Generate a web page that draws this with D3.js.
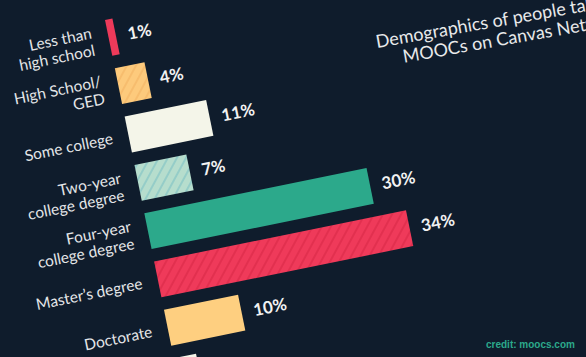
<!DOCTYPE html>
<html>
<head>
<meta charset="utf-8">
<script src="https://cdn.jsdelivr.net/npm/d3@7"></script>
<style>
  html, body { margin: 0; padding: 0; background: #0f1c2c; }
  svg { display: block; }
</style>
</head>
<body>
<svg id="chart" width="586" height="357"></svg>
<script>
// ---- data ----
const categories = ["Less than\nhigh school", "High School/\nGED", "Some college", "Two-year\ncollege degree", "Four-year\ncollege degree", "Master’s degree", "Doctorate", "Professional degree"];
const values = [1, 4, 11, 7, 30, 34, 10, 3];
const valueLabels = ["1%", "4%", "11%", "7%", "30%", "34%", "10%", ""];
const titleLines = ["Demographics of people taking", "MOOCs on Canvas Network"];
const credit = "credit: moocs.com";
const visibleLabels = 7; // last bar runs off the bottom edge, its labels are not visible

// ---- styles ----
const fills = ["#ee3a5a", "url(#hatchOrange)", "#f4f5e9", "url(#hatchTeal)", "#2ca98b", "url(#hatchRed)", "#fecf80", "#f4f5e9"];

const svg = d3.select("#chart");
svg.append("rect").attr("width", 586).attr("height", 357).attr("fill", "#0f1c2c");

const defs = svg.append("defs");
function hatch(id, base, line) {
  const p = defs.append("pattern").attr("id", id).attr("patternUnits", "userSpaceOnUse")
    .attr("width", 8).attr("height", 8).attr("patternTransform", "rotate(40)");
  p.append("rect").attr("width", 8).attr("height", 8).attr("fill", base);
  p.append("rect").attr("x", 0).attr("width", 2).attr("height", 8).attr("fill", line);
}
hatch("hatchOrange", "#fdca7c", "#f7bd6e");
hatch("hatchTeal", "#b6ddcd", "#95cdc8");
hatch("hatchRed", "#ef3a5a", "#e2304f");

const step = 49.3, bw = 36.5;
const x = d3.scaleLinear().domain([0, 34]).range([0, 257]);
const y = d3.scaleBand().domain(categories)
  .range([0, categories.length * step - (step - bw)])
  .paddingInner((step - bw) / step).paddingOuter(0);

const g = svg.append("g").attr("transform", "translate(105,20) rotate(-11.5)");

g.selectAll("rect.bar").data(values).join("rect")
  .attr("class", "bar")
  .attr("x", x(0))
  .attr("y", (d, i) => y(categories[i]))
  .attr("width", d => x(d) - x(0))
  .attr("height", y.bandwidth())
  .attr("fill", (d, i) => fills[i]);

g.selectAll("text.val").data(values.slice(0, visibleLabels)).join("text")
  .attr("class", "val")
  .attr("x", d => x(d) + 12)
  .attr("y", (d, i) => y(categories[i]) + y.bandwidth() / 2 + 6)
  .attr("fill", "#f2f2f2")
  .attr("font-family", "Lato, sans-serif")
  .attr("font-weight", 700)
  .attr("font-size", 17)
  .text((d, i) => valueLabels[i]);

const labels = g.selectAll("text.cat").data(categories.slice(0, visibleLabels)).join("text")
  .attr("class", "cat")
  .attr("text-anchor", "end")
  .attr("fill", "#e4e6e8")
  .attr("font-family", "Lato, sans-serif")
  .attr("font-size", 15.5);
labels.each(function (d) {
  const lines = d.split("\n");
  const c = y(d) + y.bandwidth() / 2 + 6;
  d3.select(this).selectAll("tspan").data(lines).join("tspan")
    .attr("x", -16)
    .attr("y", (l, k) => c + (k - (lines.length - 1) / 2) * 17.5)
    .text(l => l);
});

// title
const t = svg.append("g").attr("transform", "translate(377,48) rotate(-10)")
  .attr("fill", "#e8e9ea").attr("font-family", "Lato, sans-serif").attr("font-size", 18);
t.append("text").attr("x", 0).attr("y", 0).text(titleLines[0]);
t.append("text").attr("x", 24).attr("y", 19.3).text(titleLines[1]);

svg.append("text").attr("x", 486).attr("y", 348)
  .attr("fill", "#2ca98b").attr("font-family", "Liberation Sans, Arial, sans-serif")
  .attr("font-weight", 700).attr("font-size", 10).text(credit);
</script>
</body>
</html>
